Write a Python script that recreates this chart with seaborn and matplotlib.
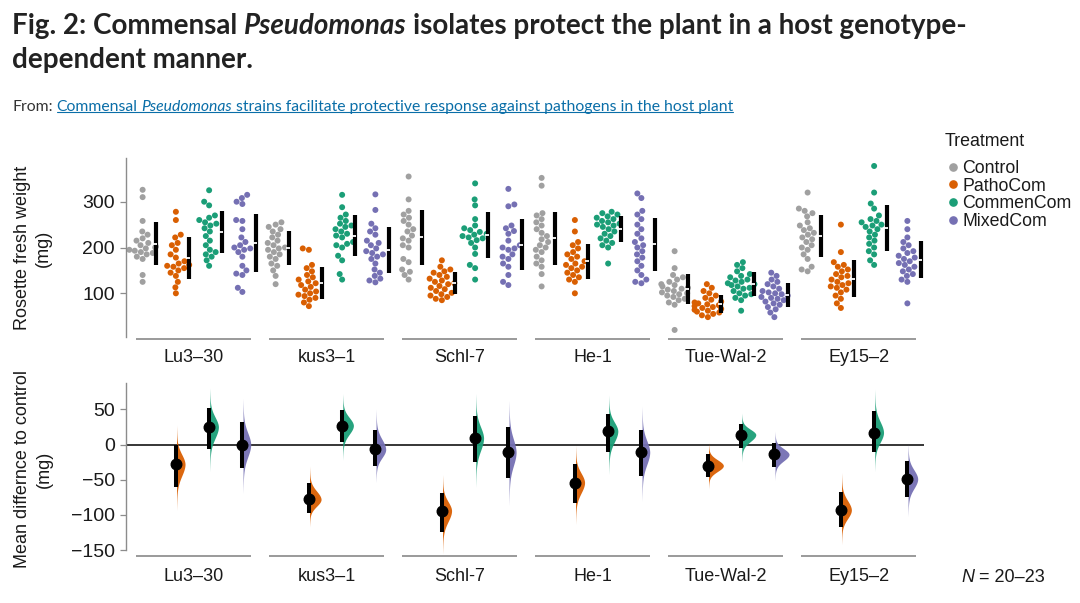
import warnings
warnings.filterwarnings("ignore")
import numpy as np
import pandas as pd
import matplotlib
matplotlib.use("Agg")
import matplotlib.pyplot as plt
import matplotlib.transforms as mtransforms
from matplotlib.lines import Line2D
import seaborn as sns

# ---------------- data ----------------
genotypes = ["Lu3–30", "kus3–1", "Schl-7", "He-1", "Tue-Wal-2", "Ey15–2"]
treatments = ["Control", "PathoCom", "CommenCom", "MixedCom"]
colors = ["#A0A0A0", "#D95F02", "#1B9E77", "#7570B3"]

lu3_30_control = [326, 310, 258, 235, 228, 220, 215, 210, 205, 202, 200, 198, 195, 193, 190, 188, 185, 180, 175, 140, 125]
lu3_30_patho = [278, 260, 228, 222, 210, 205, 195, 185, 178, 170, 165, 162, 160, 158, 155, 150, 145, 138, 125, 113, 100]
lu3_30_commen = [325, 300, 292, 270, 265, 260, 255, 252, 248, 242, 235, 225, 215, 205, 195, 190, 185, 180, 172, 160]
lu3_30_mixed = [315, 308, 300, 295, 260, 258, 240, 222, 212, 205, 200, 198, 195, 190, 180, 160, 150, 143, 140, 112, 103]

kus3_1_control = [255, 250, 245, 240, 235, 228, 222, 215, 210, 205, 200, 198, 195, 190, 185, 180, 175, 165, 160, 150, 138, 120]
kus3_1_patho = [198, 195, 162, 155, 148, 140, 135, 130, 126, 122, 118, 114, 108, 104, 100, 97, 94, 90, 86, 80, 72]
kus3_1_commen = [315, 288, 272, 265, 258, 252, 248, 245, 240, 235, 230, 226, 222, 212, 208, 205, 200, 182, 172, 142, 130]
kus3_1_mixed = [316, 282, 252, 242, 235, 228, 215, 210, 205, 198, 192, 188, 185, 180, 175, 165, 152, 145, 138, 132, 128, 124]

schl_7_control = [355, 305, 280, 272, 265, 258, 250, 240, 235, 226, 220, 215, 205, 200, 175, 168, 152, 147, 140, 130]
schl_7_patho = [172, 158, 152, 148, 145, 140, 136, 132, 128, 125, 122, 120, 116, 112, 109, 105, 101, 98, 95, 92, 88, 85]
schl_7_commen = [340, 305, 292, 262, 248, 242, 238, 234, 230, 228, 225, 222, 220, 216, 210, 200, 186, 162, 155, 130]
schl_7_mixed = [328, 294, 290, 248, 242, 236, 230, 215, 205, 200, 198, 195, 185, 180, 175, 165, 158, 140, 125, 118]

he_1_control = [352, 335, 275, 270, 262, 255, 248, 240, 232, 225, 218, 212, 205, 200, 195, 190, 180, 172, 165, 158, 142, 115]
he_1_patho = [260, 235, 212, 205, 198, 190, 185, 180, 175, 170, 165, 162, 158, 155, 150, 145, 140, 135, 130, 125, 100]
he_1_commen = [278, 275, 272, 268, 265, 262, 258, 255, 252, 250, 248, 245, 240, 235, 230, 225, 220, 215, 210, 205, 200, 165]
he_1_mixed = [318, 308, 280, 272, 262, 250, 240, 230, 220, 212, 205, 200, 192, 185, 178, 170, 160, 150, 140, 130, 125, 122]

tue_wal_2_control = [192, 155, 140, 135, 130, 125, 120, 118, 115, 112, 110, 108, 105, 102, 100, 98, 95, 92, 88, 85, 80, 75, 20]
tue_wal_2_patho = [120, 112, 105, 100, 95, 90, 86, 82, 80, 78, 76, 74, 72, 70, 68, 66, 64, 62, 60, 58, 55, 52, 48]
tue_wal_2_commen = [168, 162, 155, 148, 142, 138, 135, 130, 128, 125, 122, 120, 118, 115, 112, 110, 105, 100, 98, 95, 90, 85, 62]
tue_wal_2_mixed = [145, 138, 130, 125, 120, 115, 110, 105, 102, 100, 98, 95, 92, 90, 88, 85, 82, 78, 75, 70, 65, 58, 48]

ey15_2_control = [320, 285, 280, 275, 268, 255, 248, 242, 238, 232, 228, 222, 218, 212, 205, 200, 195, 185, 175, 158, 152, 148]
ey15_2_patho = [250, 190, 168, 162, 158, 152, 148, 142, 138, 135, 130, 125, 122, 118, 115, 112, 108, 102, 95, 88, 78, 68]
ey15_2_commen = [378, 320, 296, 285, 270, 262, 258, 255, 250, 248, 245, 240, 235, 228, 222, 215, 208, 200, 192, 185, 172, 162]
ey15_2_mixed = [258, 240, 222, 212, 205, 198, 192, 188, 182, 178, 175, 170, 166, 162, 158, 152, 148, 142, 138, 130, 125, 78]

# mean difference to control (mg) with 95% CI, per genotype
patho_diff = [-28, -78, -94, -54, -30, -93]
patho_lo = [-60, -97, -124, -83, -46, -117]
patho_hi = [-1, -55, -69, -28, -14, -67]
commen_diff = [25, 27, 9, 19, 14, 17]
commen_lo = [-6, 3, -25, -11, -5, -10]
commen_hi = [52, 49, 40, 44, 29, 47]
mixed_diff = [0, -7, -11, -11, -14, -49]
mixed_lo = [-34, -30, -48, -45, -32, -75]
mixed_hi = [32, 21, 25, 21, 2, -24]

weights = {
    "Lu3–30": [lu3_30_control, lu3_30_patho, lu3_30_commen, lu3_30_mixed],
    "kus3–1": [kus3_1_control, kus3_1_patho, kus3_1_commen, kus3_1_mixed],
    "Schl-7": [schl_7_control, schl_7_patho, schl_7_commen, schl_7_mixed],
    "He-1": [he_1_control, he_1_patho, he_1_commen, he_1_mixed],
    "Tue-Wal-2": [tue_wal_2_control, tue_wal_2_patho, tue_wal_2_commen, tue_wal_2_mixed],
    "Ey15–2": [ey15_2_control, ey15_2_patho, ey15_2_commen, ey15_2_mixed],
}
diffs = [(patho_diff, patho_lo, patho_hi), (commen_diff, commen_lo, commen_hi), (mixed_diff, mixed_lo, mixed_hi)]

# ---------------- style ----------------
sns.set_theme(style="white")
AXFONT = ["Liberation Sans", "DejaVu Sans"]
plt.rcParams["font.family"] = AXFONT
TXT = "#1a1a1a"
SPINE = "#8c8c8c"
palette = dict(zip(treatments, colors))

W, H = 1080, 603
fig = plt.figure(figsize=(W / 100, H / 100), dpi=100)
fig.patch.set_facecolor("white")

def fx(px):
    return px / W

def fy(py):
    return 1 - py / H

ax1 = fig.add_axes([fx(126), fy(339.1), (924 - 126) / W, (339.1 - 158.2) / H])
ax2 = fig.add_axes([fx(126), fy(555.7), (924 - 126) / W, (555.7 - 382.6) / H])

slots = [f"{g}|{t}" for g in genotypes for t in treatments]
rows = []
for g in genotypes:
    for t, vals in zip(treatments, weights[g]):
        for v in vals:
            rows.append({"slot": f"{g}|{t}", "Treatment": t, "weight": v})
df = pd.DataFrame(rows)

sns.swarmplot(data=df, x="slot", y="weight", order=slots, hue="Treatment",
              hue_order=treatments, palette=palette, size=4.3, linewidth=0,
              ax=ax1, legend=False, zorder=2)

# mean +/- sd gapped bars
for k, s in enumerate(slots):
    vals = np.array(df.loc[df["slot"] == s, "weight"], dtype=float)
    m, sd = vals.mean(), vals.std(ddof=1)
    xb = k + 0.40
    ax1.vlines(xb, m - sd, m + sd, color="black", lw=3.0, zorder=3)
    ax1.plot([xb - 0.09, xb + 0.03], [m, m], color="white", lw=1.3,
             solid_capstyle="butt", zorder=4)

# bottom panel: half violins + mean diff + CI
for ti, (dm, dlo, dhi) in enumerate(diffs):
    col = colors[ti + 1]
    for gi in range(len(genotypes)):
        x0 = 4 * gi + ti + 1
        m, lo, hi = dm[gi], dlo[gi], dhi[gi]
        s_lo = (m - lo) / 1.96
        s_hi = (hi - m) / 1.96
        yy = np.linspace(m - 4.0 * s_lo, m + 4.0 * s_hi, 300)
        ss = np.where(yy > m, s_hi, s_lo)
        z = (yy - m) / ss
        A = np.sqrt(2 / np.pi) / (s_lo + s_hi)
        w = 8.5 * A * np.exp(-0.5 * z ** 2) + 0.03 * (1 - np.abs(z) / 4.0)
        ax2.fill_betweenx(yy, x0 + 0.02, x0 + 0.02 + w, color=col, lw=0, alpha=0.95, zorder=2)
        ax2.vlines(x0, lo, hi, color="black", lw=2.9, zorder=3)
        ax2.plot([x0], [m], "o", color="black", ms=7.6, zorder=4)

ax2.axhline(0, color="black", lw=1.1, zorder=1)

# axes styling
for ax, yl, yt, bounds in [(ax1, (0, 395), [100, 200, 300], (5, 395)),
                           (ax2, (-158, 88), [-150, -100, -50, 0, 50], (-150, 88))]:
    ax.set_xlim(-0.5, 23.5)
    ax.set_ylim(*yl)
    ax.set_yticks(yt)
    ax.set_xticks([])
    ax.set_xlabel("")
    ax.set_ylabel("")
    for sp in ["top", "right", "bottom"]:
        ax.spines[sp].set_visible(False)
    ax.spines["left"].set_color(SPINE)
    ax.spines["left"].set_linewidth(1.0)
    ax.spines["left"].set_bounds(*bounds)
    ax.tick_params(axis="y", length=4, width=0.9, color=SPINE, labelsize=14,
                   labelcolor=TXT, pad=4, left=True)
    for lab in ax.get_yticklabels():
        lab.set_family(AXFONT)
    ax.set_facecolor("none")
    trans = mtransforms.blended_transform_factory(ax.transData, ax.transAxes)
    off = 13.5 if ax is ax1 else 15.3
    for gi, g in enumerate(genotypes):
        x0, x1 = 4 * gi - 0.2, 4 * gi + 3.27
        ax.plot([x0, x1], [0, 0], transform=trans, color="#9a9a9a", lw=1.4,
                clip_on=False, solid_capstyle="butt")
        ax.annotate(g, xy=((x0 + x1) / 2, 0), xycoords=trans, xytext=(0, -off),
                    textcoords="offset points", ha="center", va="center",
                    fontsize=13, color=TXT, family=AXFONT)

fig.text(fx(33), fy(248), "Rosette fresh weight\n(mg)", rotation=90, ha="center",
         va="center", multialignment="center", fontsize=13, color=TXT, linespacing=1.35,
         family=AXFONT)
fig.text(fx(33.5), fy(469.5), "Mean differnce to control\n(mg)", rotation=90, ha="center",
         va="center", multialignment="center", fontsize=13, color=TXT, linespacing=1.35,
         family=AXFONT)

# legend (title drawn separately for spacing)
fig.text(fx(945), fy(142), "Treatment", fontsize=12.8, color=TXT, ha="left", va="center",
         family=AXFONT)
handles = [Line2D([], [], marker="o", ls="", color=c, markersize=5.2) for c in colors]
leg = fig.legend(handles, treatments, loc="upper left",
                 bbox_to_anchor=(fx(946), fy(160)), frameon=False,
                 prop={"family": AXFONT, "size": 12.8},
                 handletextpad=0.1, handlelength=0.8,
                 labelspacing=0.04, borderaxespad=0, borderpad=0)
for t in leg.get_texts():
    t.set_color(TXT)

# N text
nt = fig.text(fx(961), fy(577), "N", fontsize=13, style="italic", va="center", ha="left",
              color=TXT, family=AXFONT)
fig.add_artist(matplotlib.text.Annotation("= 20–23", xy=(1, 0.5), xycoords=nt, xytext=(3.5, 0),
                                          textcoords="offset points", va="center", ha="left",
                                          fontsize=13, color=TXT, family=AXFONT))

# title and subtitle
TFONT = "Lato"

def chain(pieces, x, y, size, weight):
    arts = []
    prev = None
    for txt, style, color, gap in pieces:
        if prev is None:
            a = fig.text(x, y, txt, fontsize=size, fontweight=weight, fontstyle=style,
                         family=TFONT, color=color, va="baseline", ha="left")
        else:
            a = matplotlib.text.Annotation(txt, xy=(1, 0), xycoords=prev, xytext=(gap, 0),
                                           textcoords="offset points", va="bottom", ha="left",
                                           fontsize=size, fontweight=weight, fontstyle=style,
                                           family=TFONT, color=color)
            fig.add_artist(a)
        arts.append(a)
        prev = a
    return arts

TC = "#222222"
gap_t = 4.6
chain([("Fig. 2: Commensal", "normal", TC, 0), ("Pseudomonas", "italic", TC, gap_t),
       ("isolates protect the plant in a host genotype-", "normal", TC, gap_t)],
      fx(12), fy(34), 20, "bold")
chain([("dependent manner.", "normal", TC, 0)], fx(12), fy(68), 20, "bold")

LINK = "#0a6ea8"
gap_s = 2.8
sub = chain([("From:", "normal", "#333333", 0), ("Commensal", "normal", LINK, gap_s),
             ("Pseudomonas", "italic", LINK, gap_s),
             ("strains facilitate protective response against pathogens in the host plant", "normal", LINK, gap_s)],
            fx(12), fy(111), 11.35, "normal")

fig.canvas.draw()
r = fig.canvas.get_renderer()
b0 = sub[1].get_window_extent(r)
b1 = sub[-1].get_window_extent(r)
yl_px = b0.y0 + 0.22 * b0.height - 1.5
fig.add_artist(Line2D([b0.x0 / W, b1.x1 / W], [yl_px / H, yl_px / H], color=LINK, lw=0.8))

fig.savefig("out.png", dpi=100, facecolor="white")
